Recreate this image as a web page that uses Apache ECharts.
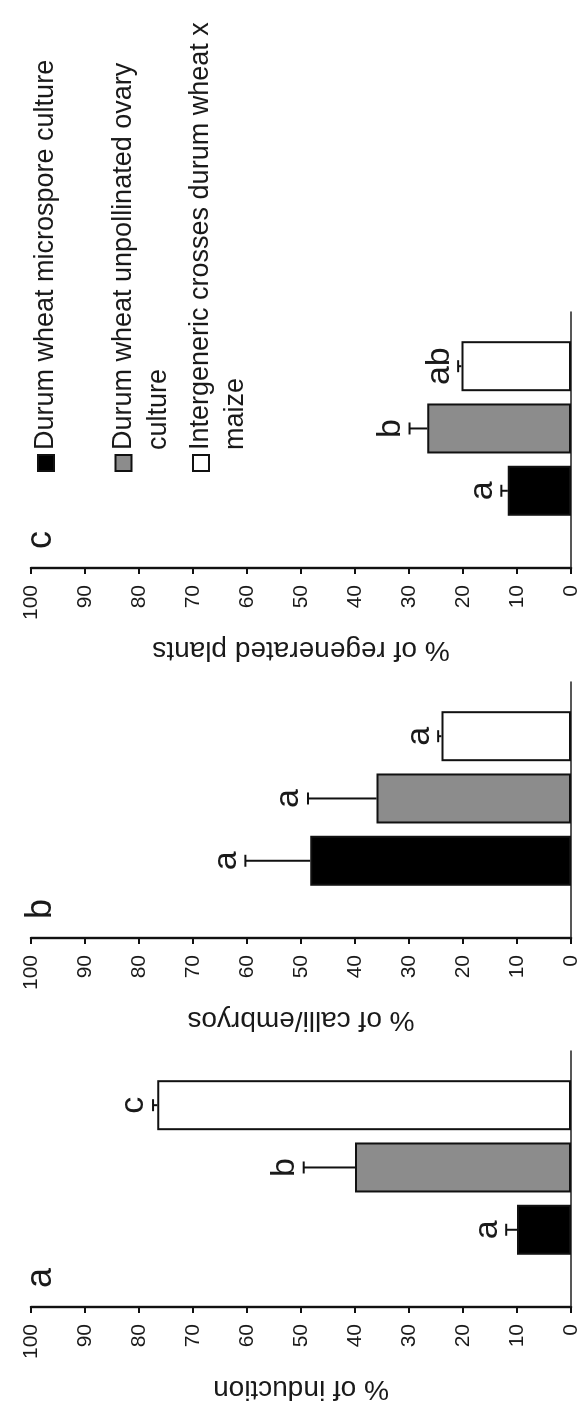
<!DOCTYPE html>
<html>
<head>
<meta charset="utf-8">
<script src="https://cdn.jsdelivr.net/npm/echarts@6/dist/echarts.min.js"></script>
<style>
  html, body { margin: 0; padding: 0; background: #fff; overflow: hidden; width: 585px; height: 1410px; }
  #chart { position: absolute; left: 0; top: 0; width: 1410px; height: 585px;
           transform-origin: 0 0; transform: translate(0px, 1410px) rotate(-90deg); }
</style>
</head>
<body>
<div id="chart"></div>
<script>
// ---- data ----
const groups = ['Durum wheat microspore culture', 'Durum wheat unpollinated ovary culture', 'Intergeneric crosses durum wheat x maize'];
const legendLabels = ['\nDurum wheat microspore culture\n', '\nDurum wheat unpollinated ovary\nculture', '\nIntergeneric crosses durum wheat x\nmaize'];
const panelLetters = ['a', 'b', 'c'];
const axisTitles = ['% of induction', '% of calli/embryos', '% of regenerated plants'];

const induction = [10, 40, 76.6];
const inductionErr = [2, 9.5, 0.8];
const inductionSig = ['a', 'b', 'c'];

const calli = [48.3, 36, 24];
const calliErr = [12, 12.7, 0.6];
const calliSig = ['a', 'a', 'a'];

const regenerated = [11.7, 26.6, 20.3];
const regeneratedErr = [1.2, 3.3, 0.6];
const regeneratedSig = ['a', 'b', 'ab'];

const yMin = 0, yMax = 100, yStep = 10;

// ---- layout / style ----
const panels = [
  { vals: induction, errs: inductionErr, sig: inductionSig },
  { vals: calli, errs: calliErr, sig: calliSig },
  { vals: regenerated, errs: regeneratedErr, sig: regeneratedSig }
];
const axisX = [103, 472, 842];
const gridW = 256;
const fills = ['#000000', '#8c8c8c', '#ffffff'];
const FONT = 'Liberation Sans, Arial, sans-serif';
const INK = '#1a1a1a';

const chart = echarts.init(document.getElementById('chart'), null, { renderer: 'canvas' });

const grid = [], xAxis = [], yAxis = [], series = [], title = [];
panels.forEach((pn, p) => {
  grid.push({ left: axisX[p], width: gridW, top: 31, bottom: 14, containLabel: false });
  xAxis.push({
    type: 'value', gridIndex: p, min: -1.24, max: 2.87,
    axisLine: { show: true, onZero: false, lineStyle: { color: '#222', width: 1.5 } },
    axisTick: { show: false }, axisLabel: { show: false }, splitLine: { show: false }
  });
  yAxis.push({
    type: 'value', gridIndex: p, min: yMin, max: yMax, interval: yStep,
    name: axisTitles[p], nameLocation: 'middle', nameGap: 68,
    nameTextStyle: { fontSize: 28, fontFamily: FONT, color: INK },
    axisLine: { show: true, onZero: false, lineStyle: { color: '#111', width: 2.4 } },
    axisTick: { show: true, inside: false, length: 6, lineStyle: { color: '#111', width: 2 } },
    axisLabel: { fontSize: 21, fontFamily: FONT, color: INK, margin: 17 },
    splitLine: { show: false }
  });
  title.push({
    text: panelLetters[p], left: axisX[p] + 19, top: 23, padding: 0,
    textStyle: { fontSize: 36, fontWeight: 'normal', fontFamily: FONT, color: INK }
  });
  groups.forEach((g, i) => {
    series.push({
      type: 'bar', name: g, xAxisIndex: p, yAxisIndex: p, stack: 'panel' + p,
      barWidth: 50, silent: true,
      data: [[i, pn.vals[i]]],
      itemStyle: { color: fills[i], borderColor: '#111', borderWidth: 2 }
    });
  });
  series.push({
    type: 'custom', xAxisIndex: p, yAxisIndex: p, silent: true, z: 5,
    encode: { x: 0, y: 1 },
    data: pn.vals.map((v, i) => [i, v, pn.errs[i]]),
    renderItem: function (params, api) {
      const i = api.value(0), v = api.value(1), e = api.value(2);
      const base = api.coord([i, v]);
      const top = api.coord([i, v + e]);
      const capHalf = 6;
      return {
        type: 'group',
        children: [
          { type: 'line', shape: { x1: base[0], y1: base[1], x2: top[0], y2: top[1] },
            style: { stroke: '#111', lineWidth: 2 } },
          { type: 'line', shape: { x1: top[0] - capHalf, y1: top[1], x2: top[0] + capHalf, y2: top[1] },
            style: { stroke: '#111', lineWidth: 2 } },
          { type: 'text', x: top[0], y: top[1] - 2,
            style: { text: pn.sig[params.dataIndex], fontSize: 34, fontFamily: FONT, fill: INK,
                     align: 'center', verticalAlign: 'bottom' } }
        ]
      };
    }
  });
});

chart.setOption({
  animation: false,
  backgroundColor: '#ffffff',
  title: title,
  grid: grid,
  xAxis: xAxis,
  yAxis: yAxis,
  legend: {
    data: groups, orient: 'vertical', left: 938, top: -6.5, padding: 0,
    itemWidth: 16, itemHeight: 16, itemGap: -27.5, icon: 'rect', selectedMode: false,
    formatter: function (name) { return legendLabels[groups.indexOf(name)]; },
    textStyle: { fontSize: 27, fontFamily: FONT, color: INK, lineHeight: 35 }
  },
  series: series
});
</script>
</body>
</html>
